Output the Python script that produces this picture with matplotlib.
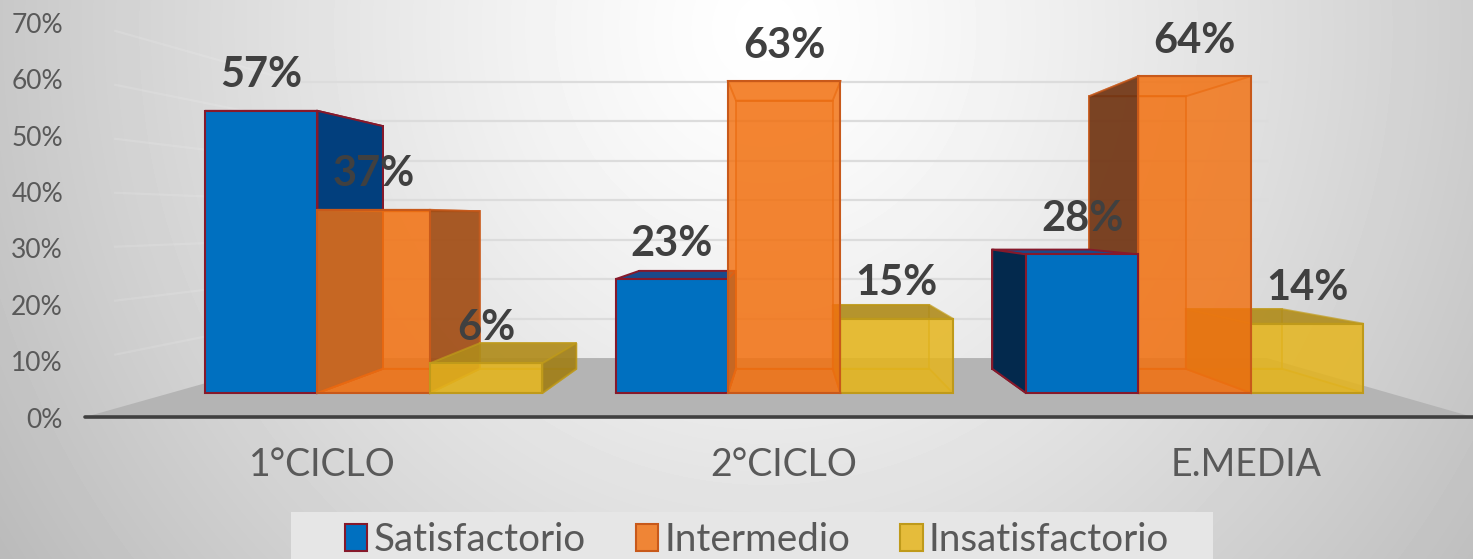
import matplotlib
matplotlib.use("Agg")
import matplotlib.pyplot as plt
from matplotlib.colors import to_rgba
from matplotlib.patches import Polygon, Rectangle
import numpy as np

plt.rcParams["font.family"] = ["Lato", "DejaVu Sans"]

categories = ["1°CICLO", "2°CICLO", "E.MEDIA"]
satisfactorio = [57, 23, 28]
intermedio = [37, 63, 64]
insatisfactorio = [6, 15, 14]
y_ticks = [0, 10, 20, 30, 40, 50, 60, 70]

series_names = ["Satisfactorio", "Intermedio", "Insatisfactorio"]
series_values = [satisfactorio, intermedio, insatisfactorio]

styles = [
    dict(front="#0070c0", top="#1b4a8a", left="#03294d", right="#023f7d", inner="#023f7d", edge="#86192b",
         alpha=1.0, inner_alpha=1.0, floor_alpha=1.0, side_alpha=1.0),
    dict(front="#f2700f", top="#f58a3c", left="#6e3312", right="#a04c14", inner="#ee751c", edge="#c8591a",
         alpha=0.82, inner_alpha=0.2, floor_alpha=0.3, side_alpha=0.9),
    dict(front="#e5b51d", top="#b08c1c", left="#b08c1c", right="#a07e18", inner="#d0a520", edge="#bf9a1a",
         alpha=0.85, inner_alpha=0.2, floor_alpha=0.3, side_alpha=0.9),
]

W, H = 1473, 559
BAR_W = 0.274
# one category step is 410.5 px, one percent is 4.95 px on the front plane
x_lo, x_hi = -205 / 410.5, (W - 205) / 410.5
y_lo, y_hi = (393 - H) / 4.95, 393 / 4.95
vx, vy = (785 - 205) / 410.5, (393 - 220) / 4.95
K_BAR = 0.86
K_WALL = 0.798
K_AXIS = 1.139
FLOOR_L, FLOOR_R = -0.084, 2.884


def project(x, v, k):
    return vx + (x - vx) * k, vy + (v - vy) * k


fig = plt.figure(figsize=(W / 100, H / 100), dpi=100)
ax = fig.add_axes([0, 0, 1, 1])
ax.axis("off")

# background
yy, xx = np.mgrid[0:1:H * 1j, 0:1:W * 1j]
r = np.sqrt(((xx - 0.52) / 0.52) ** 2 + ((yy - 0.05) / 1.45) ** 2)
ax.imshow(255 - 55 * r ** 1.25, cmap="gray", vmin=0, vmax=255, aspect="auto",
          extent=(x_lo, x_hi, y_lo, y_hi), zorder=0, origin="upper")

# floor
floor = [project(FLOOR_L, 0, K_AXIS), project(FLOOR_R, 0, K_AXIS),
         project(FLOOR_R, 0, K_WALL), project(FLOOR_L, 0, K_WALL)]
ax.add_patch(Polygon(floor, closed=True, fc="#b4b4b4", ec="none", zorder=1))

# grid lines on back wall and left wall
for t in y_ticks[1:]:
    p0 = project(FLOOR_L, t, K_WALL)
    p1 = project(FLOOR_R, t, K_WALL)
    ax.plot([p0[0], p1[0]], [p0[1], p1[1]], color="#dcdcdc", lw=1.6, zorder=2)
    p2 = project(FLOOR_L, t, 1.09)
    ax.plot([p0[0], p2[0]], [p0[1], p2[1]], color="#ffffff", alpha=0.12, lw=1.6, zorder=2)

p0 = project(FLOOR_L, 0, K_AXIS)
p1 = project(FLOOR_R, 0, K_AXIS)
ax.plot([p0[0], p1[0]], [p0[1], p1[1]], color="#404040", lw=2.6, zorder=3, solid_capstyle="round")


def draw_sides(x0, x1, v, st, z):
    ec = to_rgba(st["edge"], 0.7 if st["alpha"] < 1 else 1)
    lf, lb = project(x0, 0, 1), project(x0, 0, K_BAR)
    rf, rb = project(x1, 0, 1), project(x1, 0, K_BAR)
    tlf, tlb = project(x0, v, 1), project(x0, v, K_BAR)
    trf, trb = project(x1, v, 1), project(x1, v, K_BAR)

    def face(pts, color, a, dz):
        ax.add_patch(Polygon(pts, closed=True, fc=to_rgba(color, a), ec=ec, lw=1.4, zorder=z + dz))

    face([lb, rb, trb, tlb], st["inner"], st["inner_alpha"], 0)
    face([lf, rf, rb, lb], st["inner"], st["floor_alpha"], 0.1)
    # a top above the horizon is seen from below, so it stays faint
    top_a = st["side_alpha"] if v < vy or st["alpha"] == 1 else st["inner_alpha"]
    face([tlf, trf, trb, tlb], st["top"], top_a, 0.2)
    if x0 > vx:
        face([lf, lb, tlb, tlf], st["left"], st["side_alpha"], 0.3)
    if x1 < vx:
        face([rf, rb, trb, trf], st["right"], st["side_alpha"], 0.3)


# outermost bars first, the ones nearest the vanishing point go on top
draw_order = [[0, 1, 2], [0, 2, 1], [2, 1, 0]]
containers = []
for s, vals in enumerate(series_values):
    st = styles[s]
    xs = [g + (s + 0.5) * BAR_W for g in range(len(categories))]
    bars = ax.bar(xs, vals, width=BAR_W, color=to_rgba(st["front"], st["alpha"]),
                  edgecolor=st["edge"], lw=1.5)
    containers.append(bars)
    for g, rect in enumerate(bars):
        z = 10 + draw_order[g].index(s)
        rect.set_zorder(z + 0.5)
        draw_sides(xs[g] - BAR_W / 2, xs[g] + BAR_W / 2, vals[g], st, z)
        ax.annotate(f"{vals[g]}%", (xs[g], vals[g]), xytext=(0, 25.6), textcoords="offset points",
                    ha="center", va="center", fontsize=30, fontweight="bold", color="#404040", zorder=20)

# value labels sit on the front edge of the left wall
for t in y_ticks:
    _, ty = project(FLOOR_L, t, K_AXIS)
    ax.text((63 - 205) / 410.5, ty - 3 / 4.95, f"{t}%", ha="right", va="center", fontsize=19,
            color="#595959", zorder=20)

# category labels
for g, c in enumerate(categories):
    cx, _ = project(g + 1.5 * BAR_W, 0, 1.125)
    ax.text(cx, (393 - 465) / 4.95, c, ha="center", va="center", fontsize=27, color="#595959", zorder=20)

# legend strip
fig.add_artist(Rectangle((291 / W, 0), 922 / W, 47 / H, transform=fig.transFigure, fc="#e6e6e6", ec="none", zorder=5))
leg = fig.legend(handles=[b[0] for b in containers], labels=series_names, ncols=3, loc="center",
                 bbox_to_anchor=(757 / W, 19 / H), fontsize=27.8, frameon=False,
                 handlelength=0.58, handleheight=0.72, handletextpad=0.16,
                 columnspacing=1.3, labelcolor="#595959")
leg.set_zorder(30)

ax.set_xlim(x_lo, x_hi)
ax.set_ylim(y_lo, y_hi)
fig.savefig("out.png", dpi=100)
